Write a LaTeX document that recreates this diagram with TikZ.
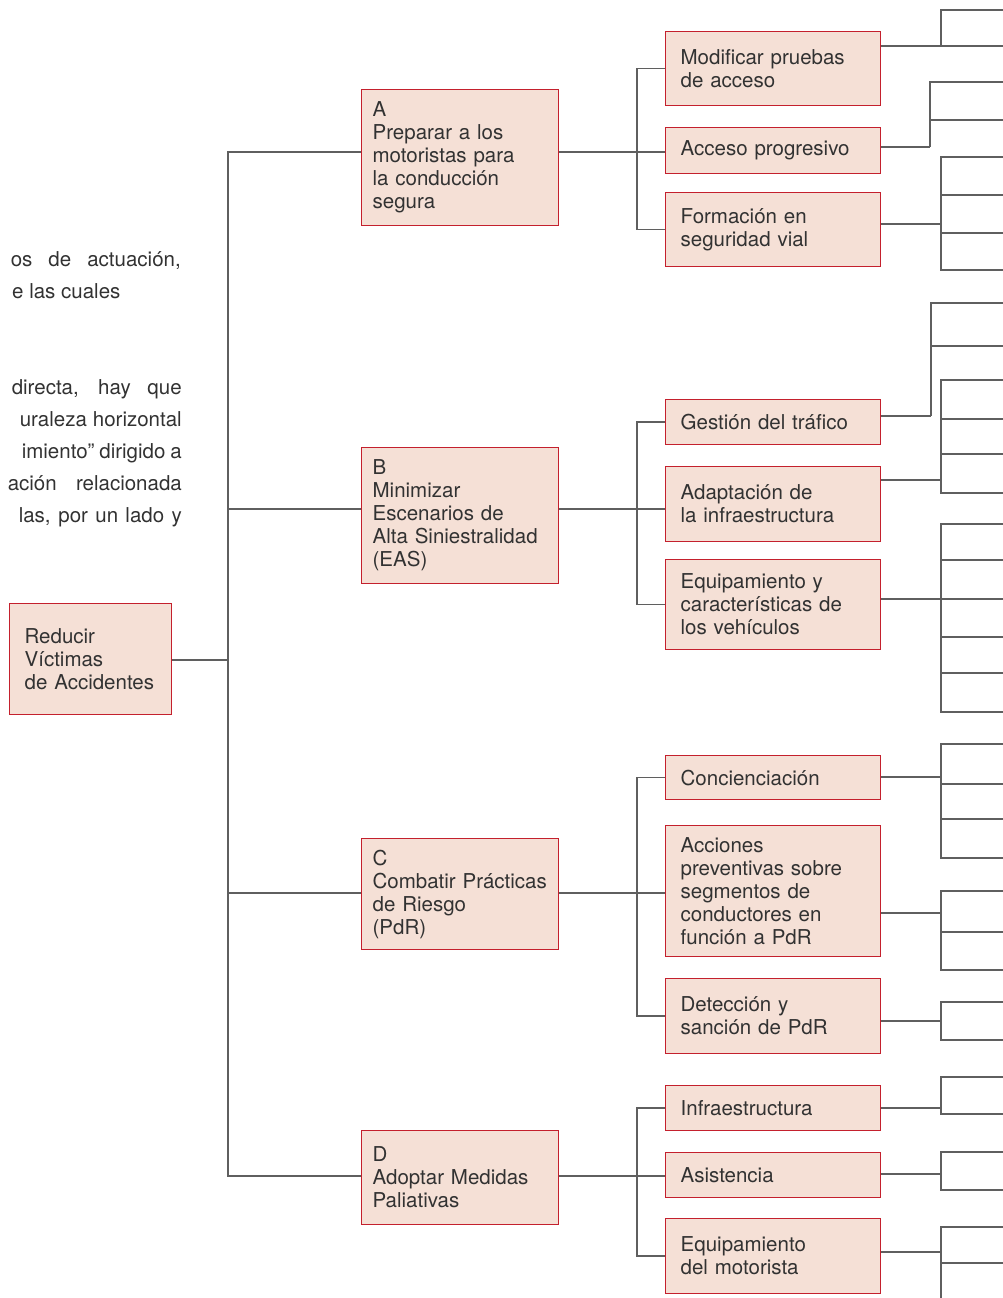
\documentclass[tikz,border=0pt]{standalone}
\usepackage{fontspec}
\setmainfont{TeX Gyre Heros}
\usepackage{tikz}
\usepackage{xcolor}
\definecolor{boxfill}{RGB}{245,224,214}
\definecolor{boxline}{RGB}{196,32,45}
\definecolor{linkgray}{RGB}{95,95,95}
\definecolor{textgray}{RGB}{50,50,50}

\begin{document}
\begin{tikzpicture}[
    x=1pt, y=-1pt,
    every node/.style={font=\fontsize{20.5}{23}\selectfont, text=textgray},
    box/.style={draw=boxline, fill=boxfill, line width=1.3pt, anchor=north west, align=left, inner ysep=0pt},
    goal/.style={box, inner xsep=15pt, text width=132pt},
    obj/.style={box, inner xsep=11pt, text width=175pt},
    measure/.style={box, inner xsep=15pt, text width=185pt},
    link/.style={draw=linkgray, line width=1.4pt},
    page/.style={anchor=base east, inner sep=0pt}
]
\useasboundingbox (0,0) rectangle (1003,1298);

% text of the page behind
\node[page] (p1) at (181,266) {\makebox[170pt][s]{os de actuación,}};
\node[page, anchor=base west] (p2) at (12,298) {e las cuales};
\node[page] (p3) at (182,394) {\makebox[170pt][s]{directa, hay que}};
\node[page] (p4) at (182,426) {\makebox[162pt][s]{uraleza horizontal}};
\node[page] (p5) at (182,458) {\makebox[160pt][s]{imiento” dirigido a}};
\node[page] (p6) at (182,490) {\makebox[174pt][s]{ación relacionada}};
\node[page] (p7) at (182,522) {\makebox[163pt][s]{las, por un lado y}};

\node[goal, minimum height=111pt] (goal) at (9,603) {Reducir\\Víctimas\\de Accidentes};

\node[obj, minimum height=136pt] (A) at (361,89) {A\\Preparar a los\\motoristas para\\la conducción\\segura};
\node[obj, minimum height=136pt] (B) at (361,447) {B\\Minimizar\\Escenarios de\\Alta Siniestralidad\\(EAS)};
\node[obj, minimum height=111pt] (C) at (361,838) {C\\Combatir Prácticas\\de Riesgo\\(PdR)};
\node[obj, minimum height=94pt] (D) at (361,1130) {D\\Adoptar Medidas\\Paliativas};

\node[measure, minimum height=74pt] (mod) at (665,31) {Modificar pruebas\\de acceso};
\node[measure, minimum height=46pt] (acc) at (665,127) {Acceso progresivo};
\node[measure, minimum height=74pt] (form) at (665,192) {Formación en\\seguridad vial};
\node[measure, minimum height=45pt] (gest) at (665,399) {Gestión del tráfico};
\node[measure, minimum height=75pt] (adap) at (665,466) {Adaptación de\\la infraestructura};
\node[measure, minimum height=90pt] (equip) at (665,559) {Equipamiento y\\características de\\los vehículos};
\node[measure, minimum height=44pt] (conc) at (665,755) {Concienciación};
\node[measure, minimum height=131pt] (acci) at (665,825) {Acciones\\preventivas sobre\\segmentos de\\conductores en\\función a PdR};
\node[measure, minimum height=75pt] (dete) at (665,978) {Detección y\\sanción de PdR};
\node[measure, minimum height=45pt] (infra) at (665,1085) {Infraestructura};
\node[measure, minimum height=45pt] (asis) at (665,1152) {Asistencia};
\node[measure, minimum height=75pt] (eqmo) at (665,1218) {Equipamiento\\del motorista};

% trunk
\coordinate (root-j) at (228,660);
\coordinate (A-j) at (637,152);
\coordinate (B-j) at (637,509);
\coordinate (C-j) at (637,893);
\coordinate (D-j) at (637,1176);
\draw[link] (goal.east |- root-j) -- (root-j);
\foreach \o/\p/\q/\r in {A/mod/acc/form, B/gest/adap/equip, C/conc/acci/dete, D/infra/asis/eqmo} {
    \draw[link] (root-j) |- (\o.west |- \o-j);
    \draw[link] (\o.east |- \o-j) -- (\o-j);
    \draw[link] (\o-j) |- (\p.west);
    \draw[link] (\o-j) -- (\q.west |- \o-j);
    \draw[link] (\o-j) |- (\r.west);
}

% branches running off the page
\foreach \m/\jx/\ey/\ys in {mod/941/46/{10,46}, acc/930/147/{82,120},
    form/941/224/{157,195,233,270}, gest/931/416/{303,346},
    adap/941/480/{380,419,454,493}, equip/941/599/{524,560,599,637,673,712},
    conc/941/777/{744,784,819,858}, acci/941/913/{891,932,970},
    dete/941/1021/{1002,1040}, infra/941/1108/{1077,1114},
    asis/941/1174/{1152,1190}, eqmo/941/1252/{1227,1263}} {
    \coordinate (\m-j) at (\jx,\ey);
    \draw[link] (\m.east |- \m-j) -- (\m-j);
    \foreach \y [count=\k] in \ys {
        \coordinate (\m-\k) at (1003,\y);
        \draw[link] (\m-j) |- (\m-\k);
    }
}
\coordinate (eqmo-end) at (941,1298);
\draw[link] (eqmo-j) -- (eqmo-end);
\end{tikzpicture}
\end{document}
